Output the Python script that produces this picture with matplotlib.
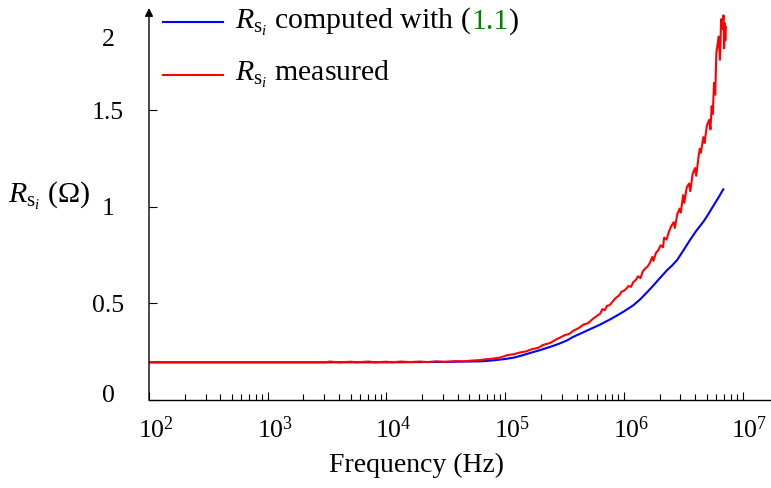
import matplotlib
matplotlib.use("Agg")
import matplotlib.pyplot as plt
import numpy as np
from matplotlib.transforms import ScaledTranslation
from matplotlib.ticker import NullFormatter, LogLocator
from matplotlib.offsetbox import AnchoredOffsetbox, HPacker, VPacker, TextArea, DrawingArea
from matplotlib.lines import Line2D

plt.rcParams['font.family'] = ['Liberation Serif', 'DejaVu Serif']
plt.rcParams['mathtext.fontset'] = 'custom'
plt.rcParams['mathtext.rm'] = 'Liberation Serif'
plt.rcParams['mathtext.it'] = 'Liberation Serif:italic'

# R_si computed with (1.1): log10(f) and resistance (Ohm)
blue_logf = [2.0, 3.0, 4.0, 4.45, 4.8, 4.9, 5.0, 5.08, 5.15, 5.22, 5.3, 5.38, 5.45,
             5.52, 5.575, 5.64, 5.7, 5.8, 5.9, 6.0, 6.08, 6.14, 6.2, 6.26, 6.3,
             6.362, 6.41, 6.45, 6.5, 6.558, 6.61, 6.67, 6.698, 6.74, 6.77, 6.8, 6.838]
blue_r = [0.195, 0.195, 0.195, 0.197, 0.2, 0.205, 0.212, 0.22, 0.232, 0.245, 0.259,
          0.275, 0.29, 0.308, 0.327, 0.345, 0.362, 0.39, 0.422, 0.458, 0.49, 0.522,
          0.56, 0.6, 0.628, 0.67, 0.698, 0.725, 0.772, 0.828, 0.875, 0.922, 0.948,
          0.99, 1.02, 1.05, 1.09]

# R_si measured
red_logf = [2.0, 3.5, 3.52, 3.6, 3.7, 3.75, 3.85, 3.9, 4.0, 4.05, 4.12, 4.2, 4.28,
            4.35, 4.42, 4.5, 4.58, 4.65, 4.72, 4.78, 4.84, 4.9, 4.96, 5.02, 5.08,
            5.12, 5.18, 5.22, 5.28, 5.32, 5.38, 5.42, 5.46, 5.5, 5.54, 5.58, 5.62,
            5.66, 5.7, 5.74, 5.78, 5.8, 5.82, 5.84, 5.86, 5.88, 5.9, 5.92, 5.94,
            5.96, 5.98, 6.0, 6.02, 6.04, 6.06, 6.08, 6.1, 6.12, 6.14, 6.16, 6.18,
            6.2, 6.22, 6.24, 6.25, 6.27, 6.29, 6.31, 6.33, 6.34, 6.36, 6.38, 6.4,
            6.42, 6.43, 6.45, 6.47, 6.48, 6.5, 6.51, 6.53, 6.55, 6.56, 6.58, 6.6,
            6.61, 6.63, 6.64, 6.65, 6.67, 6.68, 6.7, 6.72, 6.73, 6.74, 6.75, 6.76,
            6.77, 6.78, 6.79, 6.8, 6.81, 6.82, 6.83, 6.84, 6.845, 6.85, 6.855, 6.86]
red_r = [0.195, 0.195, 0.199, 0.195, 0.198, 0.195, 0.199, 0.195, 0.198, 0.195, 0.199,
         0.196, 0.199, 0.196, 0.2, 0.197, 0.201, 0.2, 0.204, 0.206, 0.211, 0.214,
         0.22, 0.232, 0.238, 0.245, 0.252, 0.262, 0.27, 0.285, 0.295, 0.31, 0.322,
         0.335, 0.342, 0.36, 0.372, 0.39, 0.398, 0.42, 0.438, 0.446, 0.47, 0.465,
         0.488, 0.49, 0.505, 0.52, 0.532, 0.54, 0.56, 0.565, 0.575, 0.59, 0.585,
         0.61, 0.62, 0.64, 0.63, 0.665, 0.68, 0.69, 0.71, 0.74, 0.72, 0.76, 0.775,
         0.8, 0.79, 0.84, 0.83, 0.87, 0.9, 0.92, 0.89, 0.96, 0.99, 0.97, 1.06,
         1.02, 1.1, 1.12, 1.08, 1.17, 1.2, 1.16, 1.26, 1.3, 1.28, 1.36, 1.33, 1.42,
         1.45, 1.4, 1.52, 1.48, 1.64, 1.58, 1.8, 1.84, 1.88, 1.76, 1.97, 1.92, 1.99,
         1.82, 1.95, 1.86, 1.93]

yticks = [0, 0.5, 1, 1.5, 2]
ytick_labels = ['0', '0.5', '1', '1.5', '2']
xticks = [1e2, 1e3, 1e4, 1e5, 1e6, 1e7]
xtick_labels = [r'$10^{2}$', r'$10^{3}$', r'$10^{4}$', r'$10^{5}$', r'$10^{6}$', r'$10^{7}$']

fig = plt.figure(figsize=(7.71, 4.88), dpi=100)
ax = fig.add_axes([149 / 771, 88 / 488, 622 / 771, 392 / 488])

ax.plot(10 ** np.array(blue_logf), blue_r, color='#0000ff', lw=1.5)
ax.plot(10 ** np.array(red_logf), red_r, color='#ff0000', lw=1.5)

ax.set_xscale('log')
ax.set_xlim(100, 10 ** 7.24)
ax.set_ylim(0, 2.028)

for s in ['top', 'right', 'left']:
    ax.spines[s].set_visible(False)
ax.spines['bottom'].set_linewidth(1.0)
ax.annotate('', xy=(0, 1), xytext=(0, 0), xycoords='axes fraction',
            arrowprops=dict(arrowstyle='-|>', color='black', lw=1.0,
                            shrinkA=0, shrinkB=0, mutation_scale=12))

ax.set_xticks(xticks)
ax.set_xticklabels(xtick_labels)
ax.xaxis.set_minor_locator(LogLocator(base=10, subs=np.arange(2, 10)))
ax.xaxis.set_minor_formatter(NullFormatter())
ax.set_yticks(yticks)
ax.set_yticklabels(ytick_labels, ha='center')

ax.tick_params(axis='both', which='major', direction='in', length=6, width=0.8,
               labelsize=18.5)
ax.tick_params(axis='x', which='minor', direction='in', length=4, width=0.8)
ax.tick_params(axis='x', which='major', pad=12)
ax.tick_params(axis='y', which='major', pad=29.5)

for lab in ax.get_xticklabels():
    lab.set_transform(lab.get_transform() + ScaledTranslation(0.07, 0, fig.dpi_scale_trans))
ylabs = ax.get_yticklabels()
ylabs[0].set_transform(ylabs[0].get_transform() + ScaledTranslation(0, 0.06, fig.dpi_scale_trans))
ylabs[-1].set_transform(ylabs[-1].get_transform() + ScaledTranslation(0, -0.24, fig.dpi_scale_trans))
ax.yaxis.get_major_ticks()[-1].tick1line.set_visible(False)

ax.set_xlabel('Frequency (Hz)', fontsize=20, va='center')
ax.xaxis.set_label_coords(0.43, -0.168)
ax.set_ylabel(r'$R_{\mathrm{s}_i}$ $(\Omega)$', fontsize=21.5, rotation=0,
              ha='center', va='center')
ax.yaxis.set_label_coords(-0.161, 0.52)


# legend with a green equation reference
def handle(color):
    da = DrawingArea(43, 12, 0, 0)
    da.add_artist(Line2D([0, 43], [6, 6], color=color, lw=1.5))
    return da


fs = 21.5
tp = dict(fontsize=fs)
row1_text = HPacker(children=[TextArea(r'$R_{\mathrm{s}_i}$ computed with (', textprops=tp),
                              TextArea('1.1', textprops=dict(fontsize=fs, color='#008000')),
                              TextArea(')', textprops=tp)],
                    align='baseline', pad=0, sep=0)
row1 = HPacker(children=[handle('#0000ff'), row1_text], align='center', pad=0, sep=9)
row2 = HPacker(children=[handle('#ff0000'), TextArea(r'$R_{\mathrm{s}_i}$ measured', textprops=tp)],
               align='center', pad=0, sep=9)
box = VPacker(children=[row1, row2], align='left', pad=0, sep=15.5)
leg = AnchoredOffsetbox(loc='upper left', child=box, pad=0, borderpad=0, frameon=False,
                        bbox_to_anchor=(163 / 771, 1 - 5.5 / 488),
                        bbox_transform=fig.transFigure)
ax.add_artist(leg)

fig.savefig('out.png', dpi=100)
